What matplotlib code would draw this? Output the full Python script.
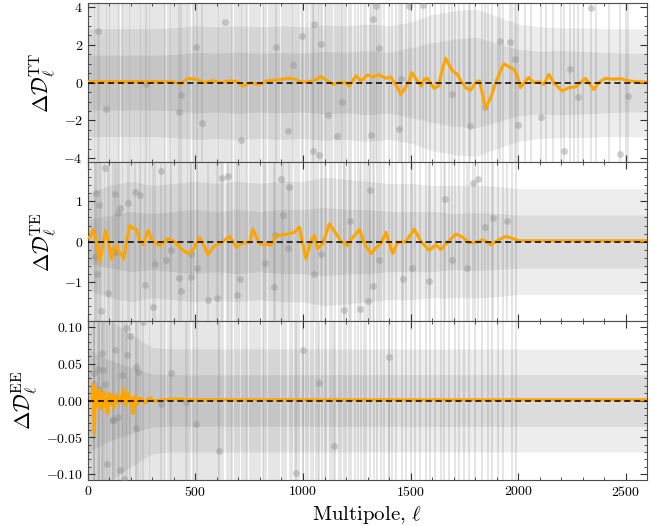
"""
Residual spectra TT / TE / EE with GP-smoothed residual and 1/2 sigma bands.
"""
import numpy as np
import matplotlib
matplotlib.use('Agg')
import matplotlib.pyplot as plt
from matplotlib.ticker import MultipleLocator

plt.rcParams['font.family'] = 'serif'
plt.rcParams['font.serif'] = ['cmr10', 'DejaVu Serif']
plt.rcParams['mathtext.fontset'] = 'cm'
plt.rcParams['axes.formatter.use_mathtext'] = True
plt.rcParams['axes.unicode_minus'] = True

# ── data ─────────────────────────────────────────────────────────────────────

band_ell = [0, 100, 200, 300, 400, 500, 600, 700, 800, 900, 1000, 1100, 1200,
            1300, 1400, 1500, 1600, 1700, 1800, 1900, 2000, 2100, 2200, 2300,
            2400, 2500, 2600]

tt_s1 = [1.45, 1.45, 1.45, 1.45, 1.48, 1.6, 1.55, 1.62, 1.55, 1.6, 1.55, 1.65,
         1.6, 1.7, 1.6, 1.85, 2.1, 2.3, 2.4, 2.1, 1.75, 1.65, 1.7, 1.65, 1.6,
         1.55, 1.55]
tt_s2 = [2.85, 2.85, 2.85, 2.85, 2.9, 3.0, 2.95, 3.0, 2.95, 3.0, 2.95, 3.05,
         3.0, 3.1, 3.0, 3.2, 3.6, 3.8, 3.9, 3.5, 3.1, 2.95, 2.9, 2.9, 2.85,
         2.85, 2.85]
te_s1 = [0.55, 0.65, 0.75, 0.7, 0.75, 0.8, 0.75, 0.8, 0.75, 0.8, 0.8, 0.85,
         0.8, 0.8, 0.75, 0.75, 0.75, 0.7, 0.72, 0.7, 0.66, 0.66, 0.66, 0.66,
         0.66, 0.66, 0.66]
te_s2 = [1.2, 1.4, 1.5, 1.4, 1.45, 1.5, 1.45, 1.5, 1.45, 1.5, 1.5, 1.6, 1.55,
         1.5, 1.45, 1.45, 1.4, 1.4, 1.4, 1.38, 1.32, 1.32, 1.32, 1.32, 1.32,
         1.32, 1.32]
ee_s1 = [0.07, 0.055, 0.045, 0.036, 0.035, 0.035, 0.035, 0.035, 0.035, 0.035,
         0.035, 0.035, 0.035, 0.035, 0.035, 0.035, 0.035, 0.035, 0.035, 0.035,
         0.035, 0.035, 0.035, 0.035, 0.035, 0.035, 0.035]
ee_s2 = [0.14, 0.11, 0.09, 0.072, 0.07, 0.07, 0.07, 0.07, 0.07, 0.07, 0.07,
         0.07, 0.07, 0.07, 0.07, 0.07, 0.07, 0.07, 0.07, 0.07, 0.07, 0.07, 0.07,
         0.07, 0.07, 0.07, 0.07]

tt_fit_ell = [0, 100, 200, 300, 400, 433, 464, 510, 541, 580, 618, 665, 696,
              719, 757, 796, 835, 881, 928, 959, 990, 1020, 1051, 1082, 1113,
              1138, 1170, 1200, 1215, 1246, 1270, 1300, 1323, 1354, 1385, 1408,
              1439, 1454, 1470, 1493, 1505, 1532, 1548, 1563, 1578, 1609, 1630,
              1645, 1663, 1694, 1717, 1733, 1756, 1779, 1802, 1820, 1841, 1849,
              1872, 1895, 1918, 1933, 1956, 1980, 1995, 2010, 2034, 2049, 2072,
              2096, 2119, 2142, 2165, 2204, 2235, 2266, 2312, 2351, 2374, 2405,
              2436, 2475, 2514, 2560, 2600]
tt_fit = [0.05, 0.05, 0.05, 0.05, 0.04, -0.07, 0.23, 0.16, 0.0, 0.1, 0.0, 0.1,
          0.04, -0.18, 0.0, -0.1, 0.1, 0.14, 0.23, 0.2, 0.03, 0.04, 0.1, 0.32,
          0.1, -0.09, 0.0, 0.0, -0.18, 0.36, 0.09, 0.41, 0.3, 0.41, 0.23, 0.3,
          -0.27, -0.62, -0.36, 0.09, 0.53, 0.09, -0.18, 0.18, 0.23, -0.3,
          -0.18, 0.6, 1.28, 0.62, 0.44, 0.09, -0.27, -0.4, 0.0, 0.09, -0.98,
          -1.33, -0.8, 0.0, 0.62, 1.0, 0.84, 0.71, 0.36, -0.27, 0.09, 0.27,
          0.0, 0.05, -0.09, 0.44, 0.0, -0.44, -0.27, -0.23, 0.23, -0.36, 0.0,
          0.23, 0.18, 0.21, 0.09, 0.04, 0.04]

te_fit_ell = [0, 9, 25, 40, 56, 70, 83, 97, 110, 122, 133, 145, 155, 167, 180,
              195, 210, 226, 240, 257, 280, 303, 334, 373, 403, 434, 465, 488,
              519, 540, 558, 589, 620, 659, 690, 721, 752, 767, 798, 821, 852,
              875, 921, 960, 983, 1014, 1037, 1053, 1068, 1092, 1122, 1153,
              1177, 1207, 1223, 1262, 1290, 1316, 1340, 1362, 1385, 1416, 1439,
              1478, 1517, 1548, 1586, 1617, 1640, 1664, 1710, 1741, 1772, 1818,
              1834, 1872, 1911, 1942, 1973, 2004, 2600]
te_fit = [0.1, 0.1, 0.3, 0.0, -0.5, -0.1, 0.27, 0.0, -0.43, -0.2, -0.1, -0.26,
          -0.3, -0.43, 0.0, 0.4, 0.33, 0.31, 0.05, -0.08, 0.27, 0.0, -0.1,
          0.08, 0.0, -0.18, -0.3, -0.22, 0.1, -0.1, -0.33, -0.1, -0.03, 0.13,
          -0.14, -0.03, -0.03, 0.31, -0.05, -0.08, -0.08, 0.15, 0.18, 0.23,
          0.36, -0.43, 0.02, 0.15, -0.18, -0.05, 0.44, 0.2, 0.0, -0.1, 0.05,
          0.3, -0.1, -0.3, -0.15, -0.05, 0.23, -0.3, -0.02, 0.0, 0.31, 0.0,
          -0.22, -0.08, -0.2, -0.06, 0.19, 0.11, -0.03, 0.0, 0.05, -0.08,
          0.05, 0.13, 0.08, 0.02, 0.02]

ee_fit_ell = [20, 24, 27, 30, 33, 36, 40, 44, 48, 52, 56, 60, 64, 68, 72, 76,
              80, 84, 88, 92, 96, 100, 104, 108, 112, 116, 120, 124, 128, 132,
              136, 140, 144, 148, 152, 156, 160, 165, 170, 175, 180, 185, 190,
              195, 200, 205, 210, 215, 220, 225, 232, 240, 255, 262, 270, 280,
              294, 310, 325, 350, 400, 500, 2600]
ee_fit = [0.0, 0.022, -0.01, -0.045, -0.02, 0.015, -0.005, 0.01, -0.008,
          0.014, -0.004, 0.008, -0.012, 0.006, -0.006, 0.012, -0.008, 0.004,
          -0.01, -0.018, 0.002, 0.01, -0.004, 0.008, -0.006, 0.006, -0.01,
          -0.008, 0.004, 0.008, -0.002, 0.006, -0.004, 0.002, -0.002, 0.006,
          0.002, 0.016, -0.004, 0.01, -0.006, 0.003, 0.01, -0.002, 0.004,
          -0.008, -0.018, 0.002, 0.006, -0.004, -0.005, 0.003, 0.002, -0.002,
          -0.003, 0.002, 0.003, -0.001, 0.0, 0.001, 0.002, 0.001, 0.001]

tt_pts_ell = [48, 83, 269, 434, 422, 504, 529, 638, 710, 873, 931, 955, 994,
              1053, 1084, 1048, 1076, 1115, 1323, 1339, 1493, 1558, 1351, 1181,
              1156, 1316, 1444, 1455, 1691, 1776, 1844, 1914, 1960, 1984, 1999,
              2107, 2212, 2240, 2279, 2339, 2475, 2509]
tt_pts = [2.74, -1.40, -0.07, -0.64, -1.55, 1.87, -2.15, 3.22, -3.04, 1.87,
          -2.56, 0.92, 2.45, 3.09, 2.04, -3.64, -3.82, -1.69, 3.38, 4.04, 4.04,
          4.09, 1.83, -1.03, -2.81, -2.76, -2.45, 0.18, -0.59, -2.31, -1.30,
          2.19, 2.13, 1.24, -2.26, -1.83, -3.61, 0.71, -0.76, 3.96, -3.79,
          -0.71]

te_pts_ell = [39, 53, 33, 43, 62, 79, 94, 128, 148, 141, 117, 133, 187, 218,
              244, 268, 305, 312, 342, 362, 388, 422, 431, 478, 481, 506, 558,
              601, 623, 651, 705, 692, 824, 864, 872, 898, 909, 929, 937, 1053,
              1084, 1192, 1265, 1300, 1326, 1311, 1218, 1351, 1466, 1506, 1586,
              1660, 1691, 1764, 1792, 1815, 1844, 1881, 1949]
te_pts = [1.21, 0.91, -0.39, -0.80, -1.73, 1.84, -1.28, 1.18, 0.83, 0.71,
          -0.22, -0.26, 0.96, 1.24, 1.16, -1.07, -1.63, -0.55, 1.76, -0.45,
          -0.20, -0.91, -1.24, -0.88, -0.31, -0.65, -1.46, -1.40, 1.58, 1.64,
          -0.94, -1.34, -0.53, -1.13, 0.17, 1.55, 0.66, -0.17, 1.35, -0.80,
          -0.31, -1.71, -1.69, -1.49, -1.11, 1.29, 0.50, -0.47, -0.94, -0.66,
          -0.99, 1.07, -0.45, -0.66, 1.45, 1.57, 0.36, 0.58, 0.50]

ee_pts_ell = [30, 48, 29, 64, 71, 81, 89, 125, 161, 176, 182, 198, 117, 141,
              148, 168, 226, 223, 257, 339, 388, 458, 504, 612, 968, 1002,
              1076, 1146, 1398, 54, 116, 232]
ee_pts = [0.037, 0.043, 0.022, 0.064, 0.042, 0.023, -0.086, 0.069, 0.034,
          0.098, 0.062, 0.087, -0.026, -0.023, -0.095, -0.107, -0.037, 0.045,
          0.107, -0.005, 0.038, -0.002, -0.032, -0.068, -0.099, 0.069, 0.024,
          -0.062, 0.059, 0.015, -0.027, 0.039]

# multipoles of the data points whose error bars run across the whole panel
bar_ell = [12, 20, 27, 35, 41, 52, 58, 66, 74, 90, 97, 105, 113, 120, 131, 139,
           146, 158, 165, 172, 181, 190, 198, 207, 214, 222, 233, 241, 249, 256,
           265, 276, 284, 291, 300, 309, 318, 326, 335, 344, 352, 361, 371, 380,
           388, 397, 405, 414, 425, 433, 441, 450, 460, 468, 477, 487, 495, 506,
           514, 522, 532, 541, 550, 558, 567, 576, 585, 594, 603, 612, 620, 630,
           645, 655, 664, 672, 683, 692, 701, 715, 724, 733, 742, 752, 762, 771,
           780, 790, 800, 812, 821, 830, 841, 850, 860, 869, 880, 890, 901, 912,
           921, 940, 949, 962, 972, 983, 1001, 1012, 1022, 1035, 1045, 1060,
           1070, 1090, 1100, 1108, 1125, 1135, 1148, 1165, 1175, 1190, 1202,
           1213, 1225, 1240, 1255, 1268, 1283, 1295, 1310, 1330, 1345, 1362,
           1378, 1398, 1415, 1430, 1462, 1480, 1500, 1520, 1545, 1570, 1590,
           1612, 1640, 1655, 1680, 1705, 1725, 1750, 1770, 1800, 1830, 1858,
           1880, 1905, 1930, 1970, 1990]
tt_extra_bar_ell = [2030, 2060, 2130, 2160, 2200, 2260, 2300, 2360, 2420, 2500]

# ── plot ─────────────────────────────────────────────────────────────────────

fig, axes = plt.subplots(3, 1, figsize=(6.5, 5.26), dpi=100, sharex=True)
fig.subplots_adjust(left=0.135, right=0.996, top=0.994, bottom=0.0875, hspace=0)

panels = [
    (r'$\Delta\mathcal{D}_\ell^{\rm TT}$', 4.2, 2, 0.5, tt_s1, tt_s2,
     tt_fit_ell, tt_fit, tt_pts_ell, tt_pts, bar_ell + tt_extra_bar_ell),
    (r'$\Delta\mathcal{D}_\ell^{\rm TE}$', 1.98, 1, 0.2, te_s1, te_s2,
     te_fit_ell, te_fit, te_pts_ell, te_pts, bar_ell),
    (r'$\Delta\mathcal{D}_\ell^{\rm EE}$', 0.108, 0.05, 0.01, ee_s1, ee_s2,
     ee_fit_ell, ee_fit, ee_pts_ell, ee_pts, bar_ell),
]

for ax, (lab, ylim, maj, mnr, s1, s2, fe, fv, pe, pv, be) in zip(axes, panels):
    ax.vlines(be + pe, -2 * ylim, 2 * ylim, color='0.65', alpha=0.28, lw=1.4,
              zorder=1)
    s1 = np.array(s1)
    s2 = np.array(s2)
    ax.fill_between(band_ell, -s2, s2, color='k', alpha=0.07, lw=0, zorder=2)
    ax.fill_between(band_ell, -s1, s1, color='k', alpha=0.07, lw=0, zorder=2)
    ax.plot(pe, pv, 'o', color='0.55', alpha=0.4, ms=5, mec='none', zorder=3)
    ax.plot(fe, fv, color='orange', lw=2.2, zorder=4, solid_joinstyle='round')
    ax.axhline(0, color='k', lw=1.1, ls=(0, (4, 2.5)), zorder=5)
    ax.set_ylim(-ylim, ylim)
    ax.set_ylabel(lab, fontsize=16)
    ax.yaxis.set_major_locator(MultipleLocator(maj))
    ax.yaxis.set_minor_locator(MultipleLocator(mnr))
    ax.xaxis.set_major_locator(MultipleLocator(500))
    ax.xaxis.set_minor_locator(MultipleLocator(100))
    ax.tick_params(which='both', direction='in', top=True, right=True,
                   labelsize=10, colors='0.2', labelcolor='k')
    ax.tick_params(which='major', length=5)
    ax.tick_params(which='minor', length=2.5)
    for sp in ax.spines.values():
        sp.set_color('0.3')

axes[-1].set_xlim(0, 2600)
axes[-1].set_xlabel(r'Multipole, $\ell$', fontsize=15)

plt.savefig('out.png', dpi=100)
plt.close()
